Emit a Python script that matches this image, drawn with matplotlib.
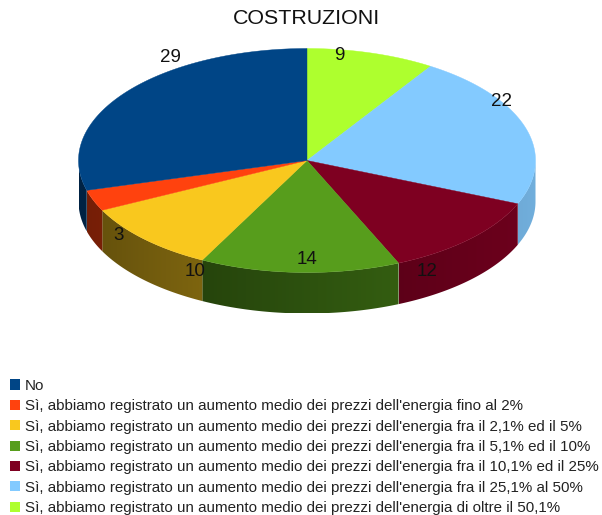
import numpy as np
import matplotlib
matplotlib.use("Agg")
import matplotlib.pyplot as plt
from matplotlib.patches import Patch, Polygon
from matplotlib.colors import to_rgb

plt.rcParams['font.family'] = ['Liberation Sans', 'DejaVu Sans']

title = "COSTRUZIONI"
# legend order, the pie runs the other way round from 12 o'clock
categories = [
    "No",
    "Sì, abbiamo registrato un aumento medio dei prezzi dell'energia fino al 2%",
    "Sì, abbiamo registrato un aumento medio dei prezzi dell'energia fra il 2,1% ed il 5%",
    "Sì, abbiamo registrato un aumento medio dei prezzi dell'energia fra il 5,1% ed il 10%",
    "Sì, abbiamo registrato un aumento medio dei prezzi dell'energia fra il 10,1% ed il 25%",
    "Sì, abbiamo registrato un aumento medio dei prezzi dell'energia fra il 25,1% al 50%",
    "Sì, abbiamo registrato un aumento medio dei prezzi dell'energia di oltre il 50,1%",
]
values = [29, 3, 10, 14, 12, 22, 9]
colors = ["#004586", "#ff420e", "#f9c81e", "#579d1c", "#7e0021", "#83caff", "#aeff2e"]

# label anchor pixels, same order as values
label_x = [170, 119, 195, 307, 427, 501, 339]
label_y = [58, 235, 272, 260, 272, 101, 56]

# how dark each side wall is
side_factor = [0.77, 0.69, 0.60, 0.52, 0.65, 0.64, 0.6]

cx, cy = 307, 160.5
rx, ry = 228.5, 112
depth = 41


def rim(a):
    # a is degrees clockwise from the top
    r = np.radians(a)
    return cx + rx * np.sin(r), cy - ry * np.cos(r)


fig = plt.figure(figsize=(6.02, 5.15), dpi=100)
ax = fig.add_axes([0, 0, 1, 1])

# slices clockwise from the top: last value first
order = list(range(len(values)))[::-1]
total = sum(values)
start = 0

for i in order:
    end = start + values[i] / total * 360
    a0, a1 = max(start, 90), min(end, 270)
    if a0 < a1:
        # side wall: horizontal gradient clipped to the wall outline
        arc = np.linspace(a0, a1, 80)
        px, py = rim(arc)
        wall = Polygon(list(zip(px, py)) + list(zip(px[::-1], py[::-1] + depth)),
                       closed=True, facecolor="none", edgecolor="none", transform=ax.transData)
        ax.add_patch(wall)
        xs = np.linspace(px.min(), px.max(), 200)
        f = side_factor[i] * (1 + 0.35 * (xs - cx) / rx)
        grad = np.clip(np.outer(f, to_rgb(colors[i])), 0, 1)[np.newaxis, :, :]
        im = ax.imshow(grad, extent=[px.min(), px.max(), py.max() + depth, py.min()],
                       aspect="auto", zorder=2, interpolation="bilinear")
        im.set_clip_path(wall)
    # top face
    arc = np.linspace(start, end, 120)
    px, py = rim(arc)
    pts = [(cx, cy)] + list(zip(px, py))
    ax.add_patch(Polygon(pts, closed=True, facecolor=colors[i], edgecolor=colors[i], lw=0.3, zorder=3))
    start = end

ax.set_xlim(0, 602)
ax.set_ylim(515, 0)
ax.axis("off")

for v, x, y in zip(values, label_x, label_y):
    ax.text(x, y, str(v), fontsize=13.5, color="#111111", ha="center", va="center", zorder=5)

ax.text(307, 18, title, fontsize=15.4, color="#111111", ha="center", va="center")

handles = [Patch(facecolor=c, edgecolor="none") for c in colors]
ax.legend(handles, categories, loc="lower left", bbox_to_anchor=(10 / 602, 0.0), frameon=False,
          fontsize=10.9, labelcolor="#222222", handlelength=0.66, handleheight=0.66,
          handletextpad=0.33, labelspacing=0.42, borderaxespad=0, borderpad=0)

fig.savefig("out.png", dpi=100)
